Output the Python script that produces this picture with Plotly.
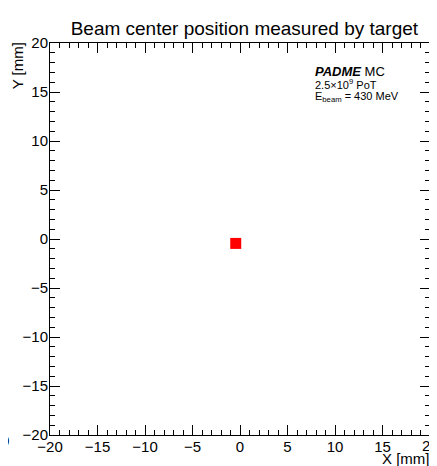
import plotly.graph_objects as go

# Data
beam_x = [-0.45]
beam_y = [-0.45]
x_range = [-20, 20]
y_range = [-20, 20]
tick_vals = [-20, -15, -10, -5, 0, 5, 10, 15, 20]
tick_text = ["\u221220", "\u221215", "\u221210", "\u22125", "0", "5", "10", "15", "20"]

FONT = "Liberation Sans, Arial, Helvetica, sans-serif"

fig = go.Figure()
fig.add_trace(go.Scatter(
    x=beam_x, y=beam_y, mode="markers",
    marker=dict(symbol="square", size=11, color="#ff0000", line=dict(width=0)),
    showlegend=False, hoverinfo="x+y",
))

axis_common = dict(
    showgrid=False, zeroline=False,
    showline=True, linecolor="black", linewidth=1, mirror="ticks",
    ticks="inside", ticklen=10, tickwidth=1, tickcolor="black",
    minor=dict(ticks="inside", ticklen=5, tickwidth=1, tickcolor="black", dtick=1),
    tickmode="array", tickvals=tick_vals, ticktext=tick_text,
    tickfont=dict(family=FONT, size=15, color="black"),
)

fig.update_xaxes(range=x_range, ticklabelstandoff=-2, **axis_common)
fig.update_yaxes(range=y_range, ticklabelstandoff=-2, **axis_common)

fig.update_layout(
    width=429, height=458,
    margin=dict(l=42, r=7, t=35, b=31),
    paper_bgcolor="white", plot_bgcolor="white",
    font=dict(family=FONT, color="black"),
    title=dict(text="Beam center position measured by target",
               x=0.551, xanchor="center", y=0.955, yanchor="middle",
               font=dict(family=FONT, size=19, color="black")),
    annotations=[
        dict(text="Y [mm]", xref="paper", yref="paper", x=-0.087, y=1.008,
             xanchor="center", yanchor="top", textangle=-90, showarrow=False,
             font=dict(family=FONT, size=15, color="black")),
        dict(text="X [mm]", xref="paper", yref="paper", x=1.005, y=-0.034,
             xanchor="right", yanchor="top", showarrow=False,
             font=dict(family=FONT, size=15, color="black")),
        dict(text=tick_text[-1], xref="x", yref="paper", x=x_range[1], y=-0.026,
             xanchor="center", yanchor="middle", showarrow=False,
             font=dict(family=FONT, size=15, color="black")),
        dict(text="<b><i>PADME</i></b> MC", xref="paper", yref="paper",
             x=0.692, y=0.928, xanchor="left", yanchor="middle", showarrow=False,
             font=dict(family=FONT, size=13, color="black")),
        dict(text="2.5\u00d710<sup>9</sup> PoT", xref="paper", yref="paper",
             x=0.692, y=0.896, xanchor="left", yanchor="middle", showarrow=False,
             font=dict(family=FONT, size=11, color="black")),
        dict(text="E<sub>beam</sub> = 430 MeV", xref="paper", yref="paper",
             x=0.692, y=0.862, xanchor="left", yanchor="middle", showarrow=False,
             font=dict(family=FONT, size=11, color="black")),
        dict(text="0", xref="paper", yref="paper", x=-0.102, y=-0.013,
             xanchor="right", yanchor="middle", showarrow=False,
             font=dict(family=FONT, size=15, color="black")),
    ],
)

fig.write_html("out.html")
